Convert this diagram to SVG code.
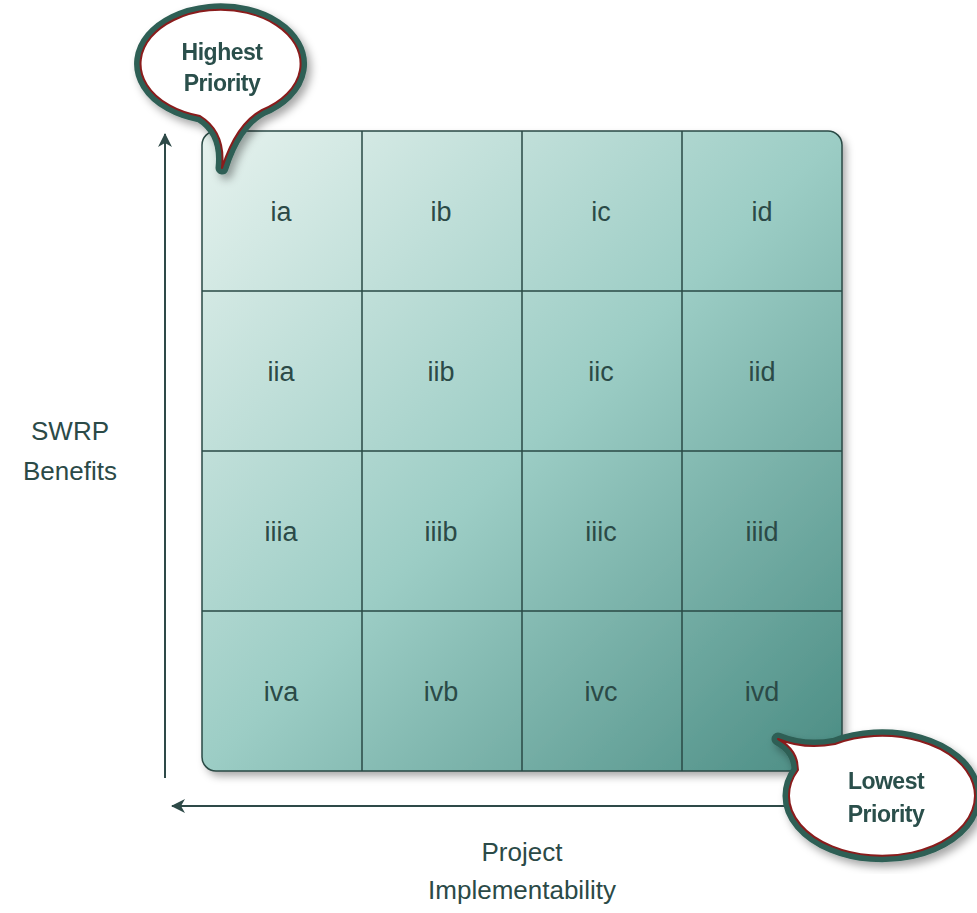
<svg xmlns="http://www.w3.org/2000/svg" width="977" height="913" viewBox="0 0 977 913">
<style>
.cell{font-family:"Liberation Sans",Arial,sans-serif;font-size:27px;fill:#2b4a47;text-anchor:middle}
.axis{font-family:"Liberation Sans",Arial,sans-serif;font-size:26px;fill:#2b4a47;text-anchor:middle}
.btext{font-family:"Liberation Sans",Arial,sans-serif;font-size:23px;font-weight:bold;fill:#2b4f4b;text-anchor:middle;letter-spacing:-0.5px}
.grid{stroke:#2a4a45;stroke-width:1.5;fill:none}
.bo{fill:none;stroke:#2f5f55;stroke-width:13;stroke-linejoin:round}
.bi{fill:#ffffff;stroke:#8a1c1c;stroke-width:2;stroke-linejoin:round}
.ax{stroke:#2e4a48;stroke-width:2;fill:none}
</style>
<defs>
<linearGradient id="g" x1="0" y1="0" x2="1" y2="1">
<stop offset="0" stop-color="#e6f2ee"/>
<stop offset="0.5" stop-color="#9ccdc5"/>
<stop offset="1" stop-color="#4a8c83"/>
</linearGradient>
<filter id="sh" x="-10%" y="-10%" width="125%" height="125%">
<feDropShadow dx="4" dy="5" stdDeviation="4" flood-color="#000" flood-opacity="0.35"/>
</filter>
<marker id="ah" viewBox="0 0 14 14" refX="13" refY="7" markerWidth="14" markerHeight="14" markerUnits="userSpaceOnUse" orient="auto">
<path d="M0,0 L14,7 L0,14 L4,7 Z" fill="#2e4a48"/>
</marker>
</defs>
<g id="axes">
<line class="ax" x1="165" y1="778" x2="165" y2="134" marker-end="url(#ah)"/>
<line class="ax" x1="800" y1="806" x2="172" y2="806" marker-end="url(#ah)"/>
</g>
<g id="matrix">
<rect x="202" y="131" width="640" height="640" rx="14" fill="url(#g)" filter="url(#sh)"/>
<rect x="202" y="131" width="640" height="640" rx="14" class="grid"/>
<path class="grid" d="M362,131V771M522,131V771M682,131V771M202,291H842M202,451H842M202,611H842"/>
</g>
<g id="cells">
<text class="cell" x="281" y="221">ia</text>
<text class="cell" x="441" y="221">ib</text>
<text class="cell" x="601" y="221">ic</text>
<text class="cell" x="762" y="221">id</text>
<text class="cell" x="281" y="381">iia</text>
<text class="cell" x="441" y="381">iib</text>
<text class="cell" x="601" y="381">iic</text>
<text class="cell" x="762" y="381">iid</text>
<text class="cell" x="281" y="541">iiia</text>
<text class="cell" x="441" y="541">iiib</text>
<text class="cell" x="601" y="541">iiic</text>
<text class="cell" x="762" y="541">iiid</text>
<text class="cell" x="281" y="701">iva</text>
<text class="cell" x="441" y="701">ivb</text>
<text class="cell" x="601" y="701">ivc</text>
<text class="cell" x="762" y="701">ivd</text>
</g>
<g id="ylabel">
<text class="axis" x="70" y="440">SWRP</text>
<text class="axis" x="70" y="480">Benefits</text>
</g>
<g id="xlabel">
<text class="axis" x="522" y="861">Project</text>
<text class="axis" x="522" y="899">Implementability</text>
</g>
<g id="highest" filter="url(#sh)">
<path class="bo" d="M262,110 A80,54 0 1 0 200,116 Q226,132 222,168 Q236,124 262,110 Z"/>
<path class="bi" d="M262,110 A80,54 0 1 0 200,116 Q226,132 222,168 Q236,124 262,110 Z"/>
<text class="btext" x="222" y="60">Highest</text>
<text class="btext" x="222" y="91">Priority</text>
</g>
<g id="lowest" filter="url(#sh)">
<path class="bo" d="M798,770 A93,60 0 1 0 835,744 Q805,750 778,739 Q798,750 798,770 Z"/>
<path class="bi" d="M798,770 A93,60 0 1 0 835,744 Q805,750 778,739 Q798,750 798,770 Z"/>
<text class="btext" x="886" y="789">Lowest</text>
<text class="btext" x="886" y="822">Priority</text>
</g>
</svg>
